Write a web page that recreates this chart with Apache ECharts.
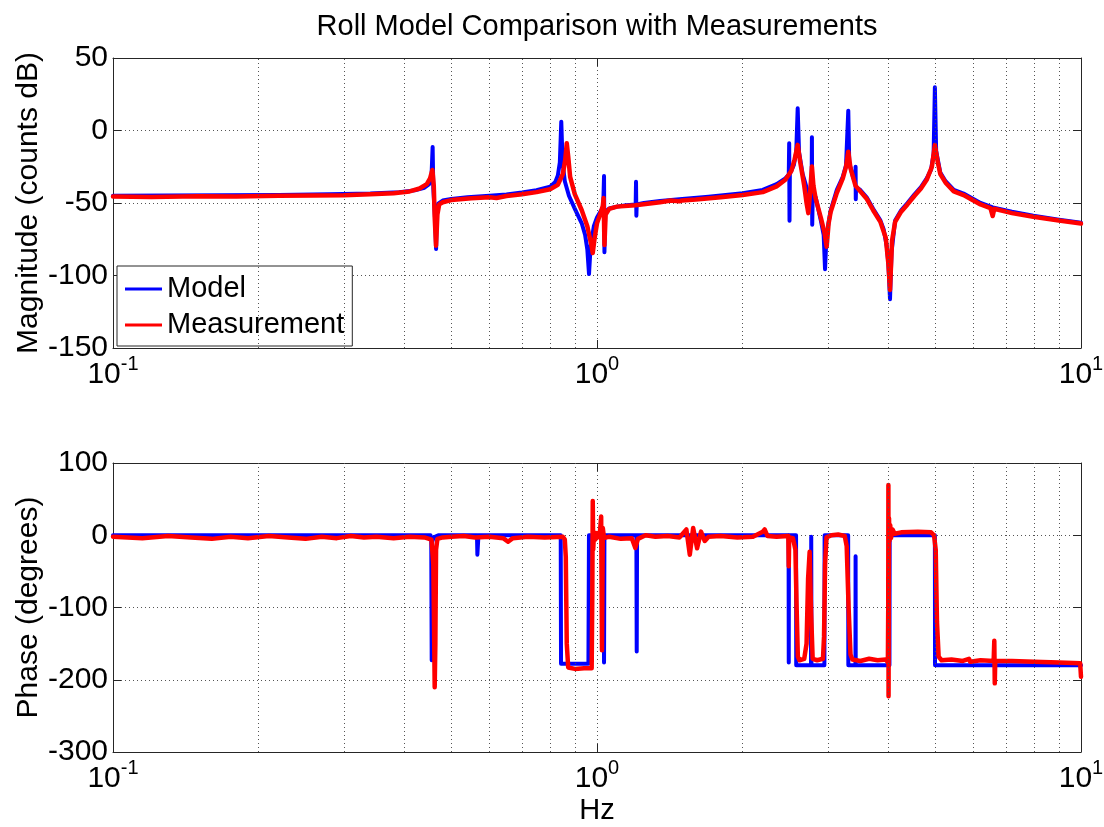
<!DOCTYPE html>
<html>
<head>
<meta charset="utf-8">
<script src="https://cdn.jsdelivr.net/npm/echarts@6.0.0/dist/echarts.min.js"></script>
<style>
  html, body { margin: 0; padding: 0; background: #fff; }
  #chart { width: 1104px; height: 827px; }
</style>
</head>
<body>
<div id="chart"></div>
<script>
// Bode-style comparison of the roll model against measured response.
const FONT = "'Liberation Sans', Arial, Helvetica, sans-serif";
const titleText = 'Roll Model Comparison with Measurements';
const seriesNames = ['Model', 'Measurement'];
const magAxisName = 'Magnitude (counts dB)';
const phaseAxisName = 'Phase (degrees)';
const freqAxisName = 'Hz';

const freqRange = [0.1, 10];
const magRange = { min: -150, max: 50, step: 50 };
const phaseRange = { min: -300, max: 100, step: 100 };

// Minor log gridlines (2..9 of each decade)
const minorTicks = [0.2, 0.3, 0.4, 0.5, 0.6, 0.7, 0.8, 0.9, 2, 3, 4, 5, 6, 7, 8, 9];

// [frequency Hz, magnitude dB]
const modelMag = [
  [0.10,-45.0],[0.13,-44.9],[0.17,-44.7],[0.22,-44.4],[0.28,-44.0],[0.34,-43.4],[0.39,-42.5],
  [0.42,-41.3],[0.44,-39.5],[0.45,-37.0],[0.455,-32.0],[0.4575,-11.4],[0.459,-40.0],[0.463,-62.0],
  [0.4651,-81.7],[0.467,-56.0],[0.470,-50.5],[0.48,-48.3],[0.50,-47.2],[0.54,-46.0],[0.60,-45.0],
  [0.65,-44.2],[0.70,-42.8],[0.75,-41.2],[0.80,-38.8],[0.82,-35.5],[0.83,-31.0],[0.838,-22.0],
  [0.8437,6.1],[0.849,-22.0],[0.858,-35.0],[0.875,-45.0],[0.90,-54.0],[0.93,-64.0],[0.945,-72.0],
  [0.955,-82.0],[0.9627,-99.0],[0.970,-80.0],[0.985,-66.0],[1.000,-60.0],[1.018,-55.5],[1.030,-53.0],
  [1.034,-31.4],[1.036,-84.0],[1.040,-56.0],[1.06,-53.8],[1.10,-52.5],[1.15,-51.5],[1.202,-51.0],
  [1.204,-35.3],[1.206,-58.8],[1.208,-51.0],[1.25,-50.0],[1.35,-48.6],[1.50,-47.2],[1.70,-45.6],
  [2.00,-43.3],[2.20,-41.0],[2.35,-37.0],[2.45,-33.0],[2.49,-30.5],[2.495,-8.8],[2.499,-62.2],
  [2.503,-30.0],[2.55,-24.0],[2.58,-15.0],[2.598,15.3],[2.615,-15.0],[2.66,-30.0],[2.72,-41.0],
  [2.775,-46.0],[2.780,-4.7],[2.784,-65.0],[2.79,-46.0],[2.83,-46.0],[2.90,-62.0],[2.94,-72.0],
  [2.959,-95.7],[2.98,-72.0],[3.04,-55.0],[3.13,-41.0],[3.22,-32.0],[3.27,-24.0],[3.305,13.7],
  [3.32,-22.0],[3.38,-32.0],[3.418,-36.0],[3.422,-25.0],[3.425,-47.4],[3.43,-39.0],[3.50,-41.0],
  [3.607,-46.0],[3.72,-54.0],[3.85,-62.0],[3.91,-68.0],[3.97,-80.0],[4.00,-92.0],[4.031,-116.4],
  [4.06,-84.0],[4.13,-62.0],[4.25,-55.0],[4.38,-50.0],[4.53,-44.0],[4.67,-39.0],[4.80,-33.0],
  [4.90,-27.0],[4.96,-16.0],[4.99,29.8],[5.02,-14.0],[5.12,-29.0],[5.25,-35.0],[5.46,-41.0],
  [5.72,-43.5],[6.20,-50.0],[6.57,-53.0],[7.20,-56.0],[7.97,-58.8],[9.00,-61.5],[10.0,-63.6]
];

const measMag = [
  [0.10,-45.5],[0.12,-45.8],[0.15,-45.3],[0.18,-45.6],[0.22,-45.0],[0.26,-44.8],[0.30,-44.6],
  [0.34,-44.0],[0.38,-43.2],[0.41,-42.0],[0.43,-40.0],[0.445,-37.0],[0.452,-33.0],[0.457,-27.2],
  [0.460,-38.0],[0.462,-60.0],[0.465,-79.5],[0.468,-58.0],[0.472,-51.0],[0.48,-49.5],[0.50,-48.0],
  [0.55,-46.8],[0.60,-46.0],[0.62,-46.6],[0.65,-45.2],[0.70,-44.0],[0.75,-42.5],[0.80,-40.5],
  [0.83,-37.5],[0.85,-30.0],[0.86,-20.0],[0.866,-8.8],[0.872,-18.0],[0.88,-32.0],[0.90,-44.0],
  [0.93,-55.0],[0.955,-66.0],[0.975,-80.0],[0.980,-84.5],[0.988,-75.0],[1.000,-64.0],[1.015,-58.0],
  [1.028,-52.0],[1.032,-46.5],[1.036,-79.0],[1.042,-58.0],[1.06,-54.0],[1.10,-52.5],[1.20,-51.5],
  [1.35,-49.5],[1.42,-48.3],[1.48,-48.8],[1.50,-48.2],[1.60,-47.6],[1.80,-46.0],[2.00,-44.5],
  [2.20,-42.5],[2.35,-38.5],[2.45,-34.0],[2.52,-28.0],[2.56,-20.0],[2.598,-9.9],[2.63,-22.0],
  [2.68,-38.0],[2.71,-50.0],[2.733,-57.0],[2.76,-40.0],[2.78,-24.9],[2.80,-38.0],[2.83,-47.0],
  [2.90,-60.0],[2.95,-70.0],[2.982,-80.1],[3.01,-64.0],[3.04,-56.0],[3.13,-43.0],[3.22,-33.0],
  [3.27,-25.0],[3.305,-14.6],[3.34,-26.0],[3.42,-38.0],[3.50,-42.0],[3.607,-47.0],[3.72,-55.0],
  [3.85,-63.0],[3.95,-74.0],[4.00,-92.0],[4.031,-110.0],[4.07,-76.0],[4.13,-63.0],[4.25,-56.0],
  [4.38,-51.0],[4.53,-45.0],[4.67,-40.0],[4.80,-34.0],[4.92,-25.0],[4.99,-10.0],[5.06,-22.0],
  [5.12,-30.0],[5.25,-36.0],[5.46,-42.0],[5.72,-44.5],[6.20,-51.0],[6.50,-53.5],[6.57,-59.0],
  [6.62,-54.0],[7.20,-57.0],[7.97,-59.5],[9.00,-62.0],[10.0,-64.2]
];

// [frequency Hz, phase deg]
const modelPhase = [
  [0.10,0],[0.453,0],[0.4545,-6],[0.4555,-173],[0.4565,-9],[0.460,-3],[0.470,0],[0.565,0],
  [0.566,-27],[0.568,-27],[0.569,0],[0.8415,0],[0.8427,-178],[0.9600,-178],[0.9625,0],
  [1.032,0],[1.034,-176],[1.036,0],[1.206,0],[1.208,-161],[1.210,0],[2.488,0],[2.490,-176],
  [2.492,0],[2.578,0],[2.580,-180],[2.768,-180],[2.771,-2],[2.774,-180],[2.950,-180],[2.953,0],
  [3.303,0],[3.306,-180],[3.420,-180],[3.422,-29],[3.424,-180],[4.020,-180],[4.024,0],
  [4.990,0],[4.994,-180],[10.0,-180]
];

const measPhase = [
  [0.10,-2],[0.115,-4],[0.13,-1],[0.145,-3],[0.16,-5],[0.175,-2],[0.19,-4],[0.21,-1],[0.23,-3],
  [0.25,-5],[0.27,-2],[0.29,-4],[0.31,-1],[0.33,-3],[0.35,-2],[0.38,-4],[0.41,-2],[0.44,-3],
  [0.455,-6],[0.459,-40],[0.461,-150],[0.462,-210.5],[0.4635,-150],[0.465,-20],[0.468,-5],
  [0.48,-3],[0.50,-2],[0.53,-1],[0.56,-3],[0.60,-2],[0.64,-4],[0.655,-9],[0.67,-4],[0.72,-2],
  [0.78,-3],[0.85,-2],[0.858,-6],[0.862,-30],[0.866,-150],[0.872,-183],[0.90,-185],[0.94,-184],
  [0.975,-184],[0.978,-80],[0.980,47.4],[0.982,-20],[0.986,4],[0.992,-6],[1.000,3],[1.012,-3],
  [1.020,26],[1.024,-159],[1.028,10],[1.034,-4],[1.06,-2],[1.12,-5],[1.18,-4],[1.200,-17.6],
  [1.215,-5],[1.26,0],[1.32,-2],[1.40,-1],[1.48,-3],[1.53,8],[1.555,-27],[1.58,10],[1.61,-18],
  [1.64,5],[1.67,-8],[1.70,-2],[1.80,-1],[1.95,-3],[2.10,-2],[2.20,5],[2.22,8],[2.25,-1],
  [2.35,-2],[2.485,-1],[2.490,-43],[2.495,-3],[2.54,-4],[2.57,-20],[2.585,-100],[2.60,-168],
  [2.62,-173],[2.68,-171],[2.71,-150],[2.73,-60],[2.75,-23],[2.77,-110],[2.79,-171],[2.85,-173],
  [2.93,-171],[2.945,-140],[2.96,-40],[2.98,-3],[3.05,0],[3.15,1],[3.25,-1],[3.28,-15],
  [3.31,-100],[3.34,-165],[3.37,-172],[3.50,-174],[3.65,-171],[3.80,-173],[3.95,-172],
  [3.99,-176],[3.997,-100],[4.000,69.5],[4.003,-223],[4.008,-60],[4.012,23.5],[4.02,-8],
  [4.035,14],[4.05,-4],[4.08,8],[4.12,2],[4.25,4],[4.60,5],[4.90,4],[4.97,0],[5.01,-20],
  [5.04,-120],[5.08,-168],[5.15,-173],[5.40,-172],[5.70,-174],[5.87,-171],[5.90,-175],
  [6.20,-173],[6.60,-174],[6.62,-146],[6.635,-205],[6.65,-174],[7.20,-174],[8.00,-175],
  [9.00,-176],[9.96,-177],[10.0,-196]
];

const BLUE = '#0000ff';
const RED = '#ff0000';
const FRAME = '#262626';
const GRID_DOT = { color: '#555', width: 1, type: [1, 3] };

const grids = [
  { left: 113, top: 58, width: 968, height: 290 },
  { left: 113, top: 463, width: 968, height: 289 }
];
// Horizontal centre of the plot area, used for the heading
const plotCenterX = grids[0].left + grids[0].width / 2;

function decadeLabel(v) {
  const e = Math.round(Math.log10(v));
  return '{b|10}{s|' + e + '}';
}

function bottomX(gridIndex, withName) {
  return {
    type: 'log', logBase: 10, gridIndex: gridIndex,
    min: freqRange[0], max: freqRange[1], position: 'bottom',
    axisLine: { show: true, onZero: false, lineStyle: { color: FRAME, width: 1 } },
    axisTick: { show: true, inside: true, length: 8, lineStyle: { color: FRAME } },
    splitLine: { show: true, lineStyle: GRID_DOT },
    axisLabel: {
      show: true, margin: 6, showMinLabel: true, showMaxLabel: true,
      formatter: decadeLabel,
      rich: {
        b: { fontSize: 30, lineHeight: 36, verticalAlign: 'bottom', fontFamily: FONT, color: '#000' },
        s: { fontSize: 20, lineHeight: 20, verticalAlign: 'top', fontFamily: FONT, color: '#000' }
      }
    },
    name: withName ? freqAxisName : '',
    nameLocation: 'middle', nameGap: 44, nameMoveOverlap: false,
    nameTextStyle: { fontSize: 29, fontFamily: FONT, color: '#000' }
  };
}

function topX(gridIndex) {
  return {
    type: 'log', logBase: 10, gridIndex: gridIndex,
    min: freqRange[0], max: freqRange[1], position: 'top',
    axisLine: { show: true, onZero: false, lineStyle: { color: FRAME, width: 1 } },
    axisTick: { show: true, inside: true, length: 8, lineStyle: { color: FRAME } },
    splitLine: { show: false }, axisLabel: { show: false }
  };
}

function leftY(gridIndex, range, name) {
  return {
    type: 'value', gridIndex: gridIndex, position: 'left',
    min: range.min, max: range.max, interval: range.step,
    axisLine: { show: true, onZero: false, lineStyle: { color: FRAME, width: 1 } },
    axisTick: { show: true, inside: true, length: 8, lineStyle: { color: FRAME } },
    splitLine: { show: true, lineStyle: GRID_DOT },
    axisLabel: { show: true, margin: 5, fontSize: 30, fontFamily: FONT, color: '#000',
                 showMinLabel: true, showMaxLabel: true },
    name: name, nameLocation: 'middle', nameRotate: 90, nameGap: 69, nameMoveOverlap: false,
    nameTextStyle: { fontSize: 30, fontFamily: FONT, color: '#000' }
  };
}

function rightY(gridIndex, range) {
  return {
    type: 'value', gridIndex: gridIndex, position: 'right',
    min: range.min, max: range.max, interval: range.step,
    axisLine: { show: true, onZero: false, lineStyle: { color: FRAME, width: 1 } },
    axisTick: { show: true, inside: true, length: 8, lineStyle: { color: FRAME } },
    splitLine: { show: false }, axisLabel: { show: false }
  };
}

function gridLines(xi, yi) {
  return {
    type: 'line', xAxisIndex: xi, yAxisIndex: yi, data: [], z: 1, silent: true,
    markLine: {
      silent: true, symbol: ['none', 'none'], animation: false,
      label: { show: false }, lineStyle: GRID_DOT,
      emphasis: { disabled: true },
      data: minorTicks.map(v => ({ xAxis: v }))
    }
  };
}

function curve(name, data, color, width, xi, yi) {
  return {
    type: 'line', name: name, data: data, xAxisIndex: xi, yAxisIndex: yi,
    showSymbol: false, symbol: 'none', smooth: false, z: 3,
    color: color, animation: false,
    lineStyle: { color: color, width: width, join: 'round', cap: 'round' },
    emphasis: { disabled: true }
  };
}

const chart = echarts.init(document.getElementById('chart'), null, { renderer: 'canvas' });
chart.setOption({
  animation: false,
  backgroundColor: '#fff',
  textStyle: { fontFamily: FONT },
  graphic: [{
    type: 'text', x: plotCenterX, y: 27, silent: true,
    style: {
      text: titleText, align: 'center', verticalAlign: 'middle',
      fontSize: 29, fontFamily: FONT, fill: '#000'
    }
  }],
  legend: {
    data: seriesNames, orient: 'vertical', left: 117, top: 266,
    backgroundColor: '#fff', borderColor: FRAME, borderWidth: 1,
    padding: [7, 8, 5, 8], itemGap: 4, itemWidth: 37, itemHeight: 3, icon: 'rect',
    textStyle: { fontSize: 29, lineHeight: 32, fontFamily: FONT, color: '#000' },
    selectedMode: false
  },
  grid: grids.map(g => Object.assign({ containLabel: false, outerBoundsMode: 'none' }, g)),
  xAxis: [bottomX(0, false), topX(0), bottomX(1, true), topX(1)],
  yAxis: [leftY(0, magRange, magAxisName), rightY(0, magRange),
          leftY(1, phaseRange, phaseAxisName), rightY(1, phaseRange)],
  series: [
    gridLines(0, 0),
    gridLines(2, 2),
    curve(seriesNames[0], modelMag, BLUE, 4, 0, 0),
    curve(seriesNames[1], measMag, RED, 4.5, 0, 0),
    curve(seriesNames[0], modelPhase, BLUE, 4, 2, 2),
    curve(seriesNames[1], measPhase, RED, 4.5, 2, 2)
  ]
});
</script>
</body>
</html>
